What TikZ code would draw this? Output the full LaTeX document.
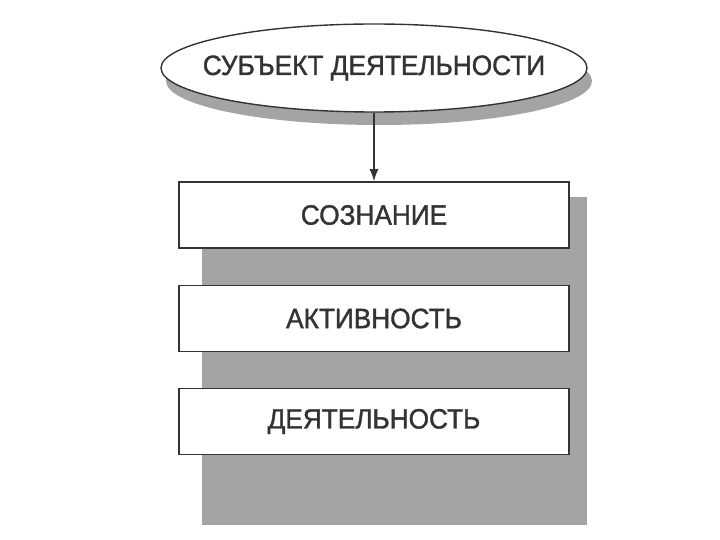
\documentclass[tikz,border=0pt]{standalone}
\usepackage{fontspec}
\setmainfont{Liberation Sans}
\newfontfamily\labfont[FakeStretch=0.94,FakeBold=1.3]{Liberation Sans}
\usetikzlibrary{shapes.geometric,shadows,arrows.meta}
\definecolor{ink}{HTML}{333333}
\definecolor{panelgray}{HTML}{A4A4A4}
\begin{document}
\begin{tikzpicture}[x=1bp,y=-1bp,
  lab/.style={font=\labfont\fontsize{28}{30}\selectfont, text=ink},
  boxnode/.style={draw=ink, line width=1.6bp, fill=white, minimum width=390bp, minimum height=66bp, inner sep=0pt, lab},
  ellnode/.style={ellipse, draw=ink, line width=1.4bp, fill=white, minimum width=426bp, minimum height=88bp, inner sep=0pt, lab,
    drop shadow={shadow xshift=5bp, shadow yshift=-13bp, fill=panelgray, opacity=1}},
  conn/.style={draw=ink, line width=1.4bp, -{Latex[length=12bp,width=9bp]}}
]
\useasboundingbox (0,0) rectangle (720,540);
\fill[white] (0,0) rectangle (720,540);
% background gray panel
\fill[panelgray] (202,197) rectangle (587,525);
\node[ellnode] (subj) at (374,68) {\makebox[0pt]{СУБЪЕКТ ДЕЯТЕЛЬНОСТИ}};
\node[boxnode] (soz) at (374,215) {СОЗНАНИЕ};
\node[boxnode] (akt) at (374,318.5) {АКТИВНОСТЬ};
\node[boxnode] (dey) at (374,421.5) {ДЕЯТЕЛЬНОСТЬ};
\draw[conn] (subj.south) -- (soz.north);
\end{tikzpicture}
\end{document}
